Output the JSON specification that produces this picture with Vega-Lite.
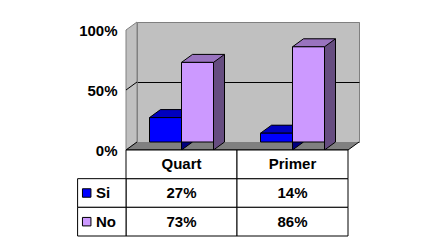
{
  "$schema": "https://vega.github.io/schema/vega-lite/v6.json",
  "width": 222,
  "height": 120,
  "autosize": {"type": "none"},
  "padding": {"left": 137, "top": 22, "right": 72, "bottom": 106},
  "background": "white",
  "config": {
    "view": {"fill": "#C0C0C0", "stroke": "#808080"},
    "font": "Liberation Sans",
    "text": {"font": "Liberation Sans", "fontSize": 15, "fontWeight": "bold", "color": "black"},
    "axisY": {
      "orient": "left", "offset": 0, "values": [0, 0.5, 1], "format": ".0%",
      "labelOffset": 8, "labelPadding": 20, "ticks": false, "domain": false,
      "grid": true,
      "gridColor": {"condition": {"test": "datum.value == 0.5", "value": "black"}, "value": "#808080"},
      "labelFont": "Liberation Sans", "labelFontSize": 15, "labelFontWeight": "bold", "labelColor": "black",
      "title": null
    }
  },
  "data": {
    "values": [
      {"category": "Quart", "series": "Si", "value": 0.27},
      {"category": "Primer", "series": "Si", "value": 0.14},
      {"category": "Quart", "series": "No", "value": 0.73},
      {"category": "Primer", "series": "No", "value": 0.86}
    ]
  },
  "resolve": {"scale": {"y": "independent"}, "axis": {"y": "independent"}},
  "layer": [
    {
      "layer": [
        {
          "data": {"values": [{}]},
          "mark": {"type": "point", "shape": "M -11 8 L 0 0 L 0 -120 L -11 -112 Z", "size": 4, "filled": true, "fill": "#C0C0C0", "stroke": "#808080", "strokeWidth": 1, "opacity": 1},
          "encoding": {
            "x": {"datum": "Quart", "type": "nominal", "bandPosition": 0, "scale": {"domain": ["Quart", "Primer"], "paddingInner": 0, "paddingOuter": 0}, "axis": null},
            "y": {"datum": 0, "type": "quantitative", "scale": {"domain": [0, 1]}}
          }
        },
        {
          "data": {"values": [{}]},
          "mark": {"type": "point", "shape": "M -11 -52 L 0 -60", "size": 4, "filled": false, "stroke": "black", "strokeWidth": 1, "opacity": 1},
          "encoding": {
            "x": {"datum": "Quart", "type": "nominal", "bandPosition": 0, "scale": {"domain": ["Quart", "Primer"], "paddingInner": 0, "paddingOuter": 0}, "axis": null},
            "y": {"datum": 0, "type": "quantitative", "scale": {"domain": [0, 1]}}
          }
        },
        {
          "data": {"values": [{}]},
          "mark": {"type": "point", "shape": "M 0 0 L -11 8 L 211 8 L 222 0", "size": 4, "filled": true, "fill": "#808080", "stroke": "black", "strokeWidth": 1, "opacity": 1},
          "encoding": {
            "x": {"datum": "Quart", "type": "nominal", "bandPosition": 0, "scale": {"domain": ["Quart", "Primer"], "paddingInner": 0, "paddingOuter": 0}, "axis": null},
            "y": {"datum": 0, "type": "quantitative", "scale": {"domain": [0, 1]}}
          }
        },
        {
          "mark": {"type": "bar", "width": 32, "xOffset": {"expr": "datum.series == 'Si' ? -16 : 16"}, "strokeWidth": 0},
          "encoding": {
            "x": {"field": "category", "type": "nominal", "scale": {"domain": ["Quart", "Primer"], "paddingInner": 0, "paddingOuter": 0}, "axis": null},
            "y": {"field": "value", "type": "quantitative", "stack": null, "scale": {"domain": [0, 1]}},
            "fill": {"condition": {"test": "datum.series == 'Si'", "value": "#000080"}, "value": "#664D80"}
          }
        },
        {
          "mark": {"type": "rule", "xOffset": {"expr": "datum.series == 'Si' ? 0 : 32"}, "color": "black", "strokeWidth": 1},
          "encoding": {
            "x": {"field": "category", "type": "nominal", "scale": {"domain": ["Quart", "Primer"], "paddingInner": 0, "paddingOuter": 0}, "axis": null},
            "y": {"field": "value", "type": "quantitative", "stack": null, "scale": {"domain": [0, 1]}},
            "y2": {"datum": 0}
          }
        },
        {
          "mark": {"type": "point", "shape": "M -11 0 L -11 8 L 0 0", "size": 4, "filled": true, "stroke": "black", "strokeWidth": 1, "opacity": 1, "xOffset": {"expr": "datum.series == 'Si' ? 0 : 32"}},
          "encoding": {
            "x": {"field": "category", "type": "nominal", "scale": {"domain": ["Quart", "Primer"], "paddingInner": 0, "paddingOuter": 0}, "axis": null},
            "y": {"datum": 0, "type": "quantitative", "scale": {"domain": [0, 1]}},
            "fill": {"condition": {"test": "datum.series == 'Si'", "value": "#000080"}, "value": "#664D80"}
          }
        },
        {
          "mark": {"type": "point", "shape": "M -27 8 L 5 8 L 16 0 L -16 0 Z", "size": 4, "filled": true, "stroke": "black", "strokeWidth": 1, "opacity": 1, "xOffset": {"expr": "datum.series == 'Si' ? -16 : 16"}},
          "encoding": {
            "x": {"field": "category", "type": "nominal", "scale": {"domain": ["Quart", "Primer"], "paddingInner": 0, "paddingOuter": 0}, "axis": null},
            "y": {"field": "value", "type": "quantitative", "stack": null, "scale": {"domain": [0, 1]}},
            "fill": {"condition": {"test": "datum.series == 'Si'", "value": "#0000BF"}, "value": "#9973BF"}
          }
        },
        {
          "mark": {"type": "bar", "width": 32, "xOffset": {"expr": "datum.series == 'Si' ? -27 : 5"}, "yOffset": 8, "y2Offset": 8, "stroke": "black", "strokeWidth": 1},
          "encoding": {
            "x": {"field": "category", "type": "nominal", "scale": {"domain": ["Quart", "Primer"], "paddingInner": 0, "paddingOuter": 0}, "axis": null},
            "y": {"field": "value", "type": "quantitative", "stack": null, "scale": {"domain": [0, 1]}},
            "fill": {"condition": {"test": "datum.series == 'Si'", "value": "#0000FF"}, "value": "#CC99FF"}
          }
        }
      ]
    },
    {
      "layer": [
        {
          "mark": {"type": "rect", "fill": "white", "stroke": "black", "strokeWidth": 1, "xOffset": -11, "x2Offset": -11},
          "encoding": {
            "x": {"field": "category", "type": "nominal", "scale": {"domain": ["Quart", "Primer"], "paddingInner": 0, "paddingOuter": 0}, "axis": null},
            "y": {"field": "series", "type": "nominal", "scale": {"domain": ["header", "Si", "No"], "range": [128, 214], "paddingInner": 0, "paddingOuter": 0}, "axis": null}
          }
        },
        {
          "mark": {"type": "text", "xOffset": -11, "baseline": "middle", "align": "center"},
          "encoding": {
            "x": {"field": "category", "type": "nominal", "scale": {"domain": ["Quart", "Primer"], "paddingInner": 0, "paddingOuter": 0}, "axis": null},
            "y": {"field": "series", "type": "nominal", "scale": {"domain": ["header", "Si", "No"], "range": [128, 214], "paddingInner": 0, "paddingOuter": 0}, "axis": null},
            "text": {"field": "value", "type": "quantitative", "format": ".0%"}
          }
        },
        {
          "transform": [{"filter": "datum.series == 'Si'"}],
          "mark": {"type": "rect", "fill": "white", "stroke": "black", "strokeWidth": 1, "xOffset": -11, "x2Offset": -11},
          "encoding": {
            "x": {"field": "category", "type": "nominal", "scale": {"domain": ["Quart", "Primer"], "paddingInner": 0, "paddingOuter": 0}, "axis": null},
            "y": {"datum": "header", "type": "nominal", "scale": {"domain": ["header", "Si", "No"], "range": [128, 214], "paddingInner": 0, "paddingOuter": 0}, "axis": null}
          }
        },
        {
          "transform": [{"filter": "datum.series == 'Si'"}],
          "mark": {"type": "text", "xOffset": -11, "baseline": "middle", "align": "center"},
          "encoding": {
            "x": {"field": "category", "type": "nominal", "scale": {"domain": ["Quart", "Primer"], "paddingInner": 0, "paddingOuter": 0}, "axis": null},
            "y": {"datum": "header", "type": "nominal", "scale": {"domain": ["header", "Si", "No"], "range": [128, 214], "paddingInner": 0, "paddingOuter": 0}, "axis": null},
            "text": {"field": "category"}
          }
        },
        {
          "transform": [{"filter": "datum.category == 'Quart'"}],
          "mark": {"type": "rect", "fill": "white", "stroke": "black", "strokeWidth": 1, "width": 48.4, "xOffset": -90.7},
          "encoding": {
            "x": {"datum": "Quart", "type": "nominal", "scale": {"domain": ["Quart", "Primer"], "paddingInner": 0, "paddingOuter": 0}, "axis": null},
            "y": {"field": "series", "type": "nominal", "scale": {"domain": ["header", "Si", "No"], "range": [128, 214], "paddingInner": 0, "paddingOuter": 0}, "axis": null}
          }
        },
        {
          "transform": [{"filter": "datum.category == 'Quart'"}],
          "mark": {"type": "point", "shape": "square", "size": 72, "filled": true, "stroke": "black", "strokeWidth": 1, "opacity": 1, "xOffset": -50.3},
          "encoding": {
            "x": {"datum": "Quart", "type": "nominal", "bandPosition": 0, "scale": {"domain": ["Quart", "Primer"], "paddingInner": 0, "paddingOuter": 0}, "axis": null},
            "y": {"field": "series", "type": "nominal", "scale": {"domain": ["header", "Si", "No"], "range": [128, 214], "paddingInner": 0, "paddingOuter": 0}, "axis": null},
            "fill": {"condition": {"test": "datum.series == 'Si'", "value": "#0000FF"}, "value": "#CC99FF"}
          }
        },
        {
          "transform": [{"filter": "datum.category == 'Quart'"}],
          "mark": {"type": "text", "xOffset": -41, "align": "left", "baseline": "middle"},
          "encoding": {
            "x": {"datum": "Quart", "type": "nominal", "bandPosition": 0, "scale": {"domain": ["Quart", "Primer"], "paddingInner": 0, "paddingOuter": 0}, "axis": null},
            "y": {"field": "series", "type": "nominal", "scale": {"domain": ["header", "Si", "No"], "range": [128, 214], "paddingInner": 0, "paddingOuter": 0}, "axis": null},
            "text": {"field": "series"}
          }
        }
      ]
    }
  ]
}
